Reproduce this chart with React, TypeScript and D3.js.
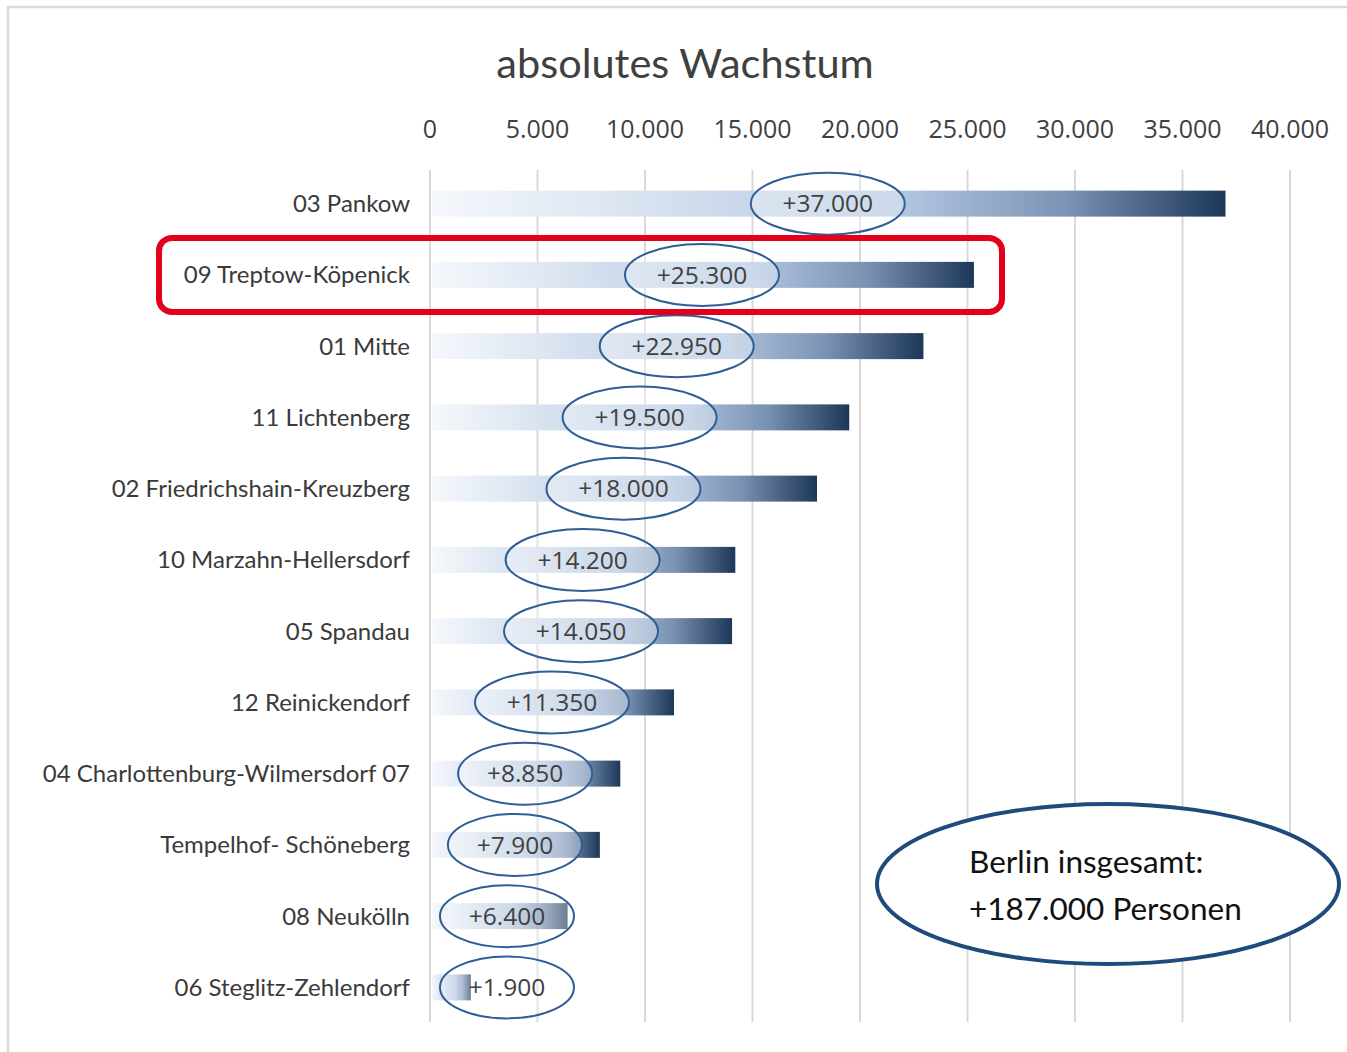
import * as d3 from "d3";

const districts = [
  "03 Pankow",
  "09 Treptow-Köpenick",
  "01 Mitte",
  "11 Lichtenberg",
  "02 Friedrichshain-Kreuzberg",
  "10 Marzahn-Hellersdorf",
  "05 Spandau",
  "12 Reinickendorf",
  "04 Charlottenburg-Wilmersdorf 07",
  "Tempelhof- Schöneberg",
  "08 Neukölln",
  "06 Steglitz-Zehlendorf",
];
const growth = [37000, 25300, 22950, 19500, 18000, 14200, 14050, 11350, 8850, 7900, 6400, 1900];
const xTicks = [0, 5000, 10000, 15000, 20000, 25000, 30000, 35000, 40000];
const highlighted = "09 Treptow-Köpenick";
const totalLines = ["Berlin insgesamt:", "+187.000 Personen"];

const width = 1347;
const height = 1052;
const marginLeft = 430;
const marginRight = 57;
const plotTop = 168;
const plotBottom = 1023;
const barH = 26;
// Excel puts the label at the bar centre, but never closer than this to the axis
const minLabelPos = 3580;

const de = d3.formatLocale({ decimal: ",", thousands: ".", grouping: [3], currency: ["", " €"] });
const fmt = de.format(",");

export default function App() {
  const x = d3.scaleLinear().domain([0, 40000]).range([marginLeft, width - marginRight]);
  const y = d3.scaleBand().domain(districts).range([plotTop, plotBottom]).padding(0);
  const bw = y.bandwidth();
  const rows = districts.map((name, i) => ({ name, value: growth[i] }));

  const hi = y(highlighted)! + bw / 2;

  return (
    <svg
      width={width}
      height={height}
      style={{ position: "absolute", left: 0, top: 0, background: "#fff" }}
      fontFamily="Lato, 'Open Sans', sans-serif"
    >
      <defs>
        {rows.map((d, i) => (
          <linearGradient key={i} id={`bar${i}`} x1="0" x2="1" y1="0" y2="0">
            <stop offset="0" stopColor="#f5f8fc" />
            <stop offset="0.2" stopColor="#e0e8f3" />
            <stop offset="0.6" stopColor="#afc4df" />
            <stop offset="0.8" stopColor="#7b93b4" />
            <stop offset="1" stopColor="#1d3759" />
          </linearGradient>
        ))}
      </defs>

      {/* frame */}
      <path d={`M8,${height} V7 H${width}`} fill="none" stroke="#d9d9d9" strokeWidth={2.5} />

      <text x={685} y={78} textAnchor="middle" fontSize={41.5} fill="#404040">
        absolutes Wachstum
      </text>

      {xTicks.map(t => (
        <g key={t}>
          <line x1={x(t)} x2={x(t)} y1={170} y2={1022} stroke="#d9d9d9" strokeWidth={2} />
          <text x={x(t)} y={138} textAnchor="middle" fontSize={25} fill="#404040"
            fontFamily="'Open Sans', sans-serif">
            {fmt(t)}
          </text>
        </g>
      ))}

      {rows.map((d, i) => {
        const cy = y(d.name)! + bw / 2;
        const label = "+" + fmt(d.value);
        const cx = x(Math.max(d.value / 2, minLabelPos));
        const rx = label.length * 10 + 7;
        return (
          <g key={d.name}>
            <text x={410} y={cy} dy="0.35em" textAnchor="end" fontSize={24} fill="#3a3a3a">
              {d.name}
            </text>
            <rect x={x(0) + 2} y={cy - barH / 2} width={x(d.value) - x(0) - 2} height={barH}
              fill={`url(#bar${i})`} />
            <ellipse cx={cx} cy={cy} rx={rx} ry={31} fill="#fff" fillOpacity={0.35}
              stroke="#2f5d95" strokeWidth={2} />
            <text x={cx} y={cy} dy="0.36em" textAnchor="middle" fontSize={24.5} fill="#404040"
              fontFamily="'Open Sans', sans-serif">
              {label}
            </text>
          </g>
        );
      })}

      {/* highlight box */}
      <rect x={159} y={hi - 37} width={843} height={74} rx={13} fill="none"
        stroke="#e2001a" strokeWidth={6} />

      {/* total annotation */}
      <ellipse cx={1108} cy={884} rx={231} ry={80} fill="#fff" stroke="#1f4a7c" strokeWidth={4} />
      {totalLines.map((t, i) => (
        <text key={t} x={969} y={873 + i * 47} fontSize={31.5} fill="#111">
          {t}
        </text>
      ))}
    </svg>
  );
}
